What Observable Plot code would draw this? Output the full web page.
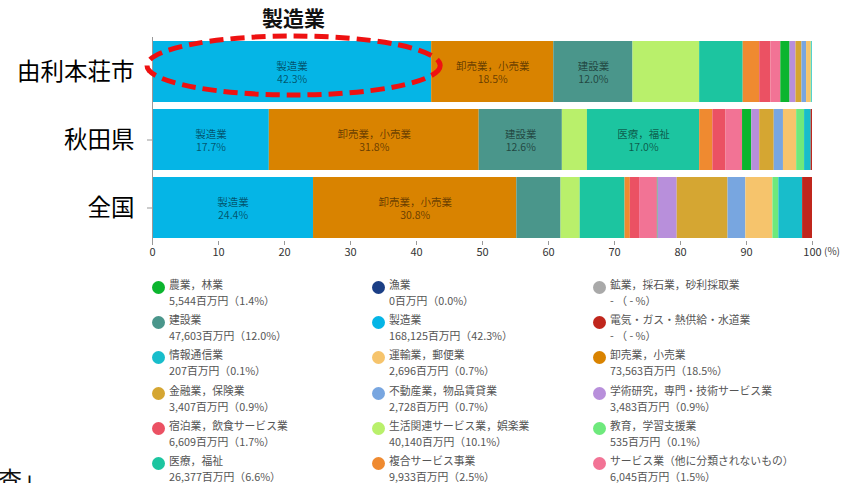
<!DOCTYPE html>
<html><head><meta charset="utf-8">
<script src="https://cdn.jsdelivr.net/npm/d3@7"></script>
<script src="https://cdn.jsdelivr.net/npm/@observablehq/plot@0.6"></script>
<style>
body{margin:0;background:#fff;font-family:"Noto Sans CJK JP","Noto Sans",sans-serif;}
#wrap{position:relative;width:843px;height:483px;overflow:hidden;background:#fff;}
#chart{position:absolute;left:0;top:0;}
.lg{position:absolute;font-size:10.8px;color:#555;line-height:16px;white-space:nowrap;}
.lg .dot{position:absolute;left:0;top:1px;width:13px;height:13px;border-radius:50%;}
.lg .t{position:absolute;left:17px;top:-4px;}
.lg .v{position:absolute;left:17px;top:12px;}
#pct{position:absolute;left:824px;top:243px;font-size:10px;color:#444;}
#foot{position:absolute;left:-2px;top:461px;font-size:24px;color:#111;}
</style></head><body><div id="wrap"><div id="chart"></div></div>
<script>
const regions = ["由利本荘市","秋田県","全国"];
const industries = ["農業，林業","漁業","鉱業，採石業，砂利採取業","建設業","製造業","電気・ガス・熱供給・水道業","情報通信業","運輸業，郵便業","卸売業，小売業","金融業，保険業","不動産業，物品賃貸業","学術研究，専門・技術サービス業","宿泊業，飲食サービス業","生活関連サービス業，娯楽業","教育，学習支援業","医療，福祉","複合サービス事業","サービス業（他に分類されないもの）"];
const colors = ["#0bb52e","#1b3f86","#a9a9a9","#4a968b","#05b5e6","#c0261c","#18bdcb","#f6c46c","#d98300","#d5a632","#78a6e0","#b88fdb","#eb5163","#b9f06b","#6ee97c","#1cc5a0","#ef8a30","#f27395"];
const amounts = [5544,0,null,47603,168125,null,207,2696,73563,3407,2728,3483,6609,40140,535,26377,9933,6045];
const shares = [1.4,0.0,null,12.0,42.3,null,0.1,0.7,18.5,0.9,0.7,0.9,1.7,10.1,0.1,6.6,2.5,1.5];
const stackOrder = ["製造業","卸売業，小売業","建設業","生活関連サービス業，娯楽業","医療，福祉","複合サービス事業","宿泊業，飲食サービス業","サービス業（他に分類されないもの）","農業，林業","学術研究，専門・技術サービス業","金融業，保険業","不動産業，物品賃貸業","運輸業，郵便業","教育，学習支援業","情報通信業","電気・ガス・熱供給・水道業"];
const yurihonjoShare = [42.3,18.5,12.0,10.1,6.6,2.5,1.7,1.5,1.4,0.9,0.9,0.7,0.7,0.1,0.1,0];
const akitaShare = [17.7,31.8,12.6,3.8,17.0,2.0,2.0,2.5,1.4,1.2,2.2,1.4,2.0,1.2,1.0,0.2];
const japanShare = [24.4,30.8,6.7,2.9,6.8,0.8,1.4,2.7,0.1,2.9,7.7,2.7,4.1,0.9,3.6,1.5];
const xTicks = [0,10,20,30,40,50,60,70,80,90,100];
const highlightLabel = "製造業";

const rowShares = [yurihonjoShare, akitaShare, japanShare];
const data = [];
regions.forEach((r, i) => stackOrder.forEach((n, j) => data.push({region: r, name: n, value: rowShares[i][j]})));

function highlight(index, scales, values, dims) {
  const x = scales.x, y = scales.y;
  const bw = y.bandwidth ? y.bandwidth() : 60;
  const x0 = x(0), x1 = x(yurihonjoShare[0]);
  const cx = (x0 + x1) / 2 + 2, rx = (x1 - x0) / 2 + 7;
  const cy = y(regions[0]) + bw / 2 - 6, ry = bw / 2 - 1;
  const g = d3.create("svg:g");
  g.append("ellipse").attr("cx", cx).attr("cy", cy).attr("rx", rx).attr("ry", ry)
    .attr("fill", "none").attr("stroke", "#ee1111").attr("stroke-width", 5)
    .attr("stroke-dasharray", "14,7");
  g.append("text").attr("x", cx).attr("y", cy - ry - 10).attr("text-anchor", "middle")
    .attr("font-size", 21).attr("font-weight", "bold").attr("fill", "#111")
    .text(highlightLabel);
  return g.node();
}

const chart = Plot.plot({
  width: 843, height: 270,
  marginLeft: 152, marginRight: 31, marginTop: 37, marginBottom: 29,
  style: {fontFamily: '"Noto Sans CJK JP","Noto Sans",sans-serif', background: "#fff"},
  x: {domain: [0, 100], ticks: xTicks, label: null},
  y: {domain: regions, paddingInner: 0.11, paddingOuter: 0.055, label: null},
  color: {domain: industries, range: colors},
  marks: [
    Plot.barX(data, Plot.stackX({x: "value", y: "region", fill: "name", order: null})),
    Plot.text(data, Plot.stackX({x: "value", y: "region", order: null,
      text: d => d.value >= 12 ? `${d.name}\n${d.value.toFixed(1)}%` : null,
      fill: "#000", fillOpacity: 0.55, fontSize: 10.5, lineHeight: 1.3})),
    Plot.ruleX([0], {stroke: "#999"}),
    Plot.axisX({ticks: xTicks, tickSize: 4, tickPadding: 3, fontSize: 11, color: "#333", stroke: "#999"}),
    Plot.axisY({tickSize: 5, tickPadding: 13, fontSize: 23.5, color: "#000", stroke: "#999"}),
    highlight
  ]
});
document.getElementById("chart").appendChild(chart);

const wrap = document.getElementById("wrap");
const colLeft = [152, 372, 593];
const rowTop = [280, 315, 350, 386, 421, 456];
const fmt = d3.format(",");
industries.forEach((n, i) => {
  const c = i % 3, r = Math.floor(i / 3);
  const div = document.createElement("div");
  div.className = "lg";
  div.style.left = colLeft[c] + "px";
  div.style.top = rowTop[r] + "px";
  const val = amounts[i] == null ? "- （ - %）" : `${fmt(amounts[i])}百万円（${shares[i].toFixed(1)}%）`;
  div.innerHTML = `<span class="dot" style="background:${colors[i]}"></span><span class="t">${n}</span><span class="v">${val}</span>`;
  wrap.appendChild(div);
});
const pct = document.createElement("div"); pct.id = "pct"; pct.textContent = "(%)"; wrap.appendChild(pct);
const foot = document.createElement("div"); foot.id = "foot"; foot.textContent = "査」"; wrap.appendChild(foot);
</script></body></html>
